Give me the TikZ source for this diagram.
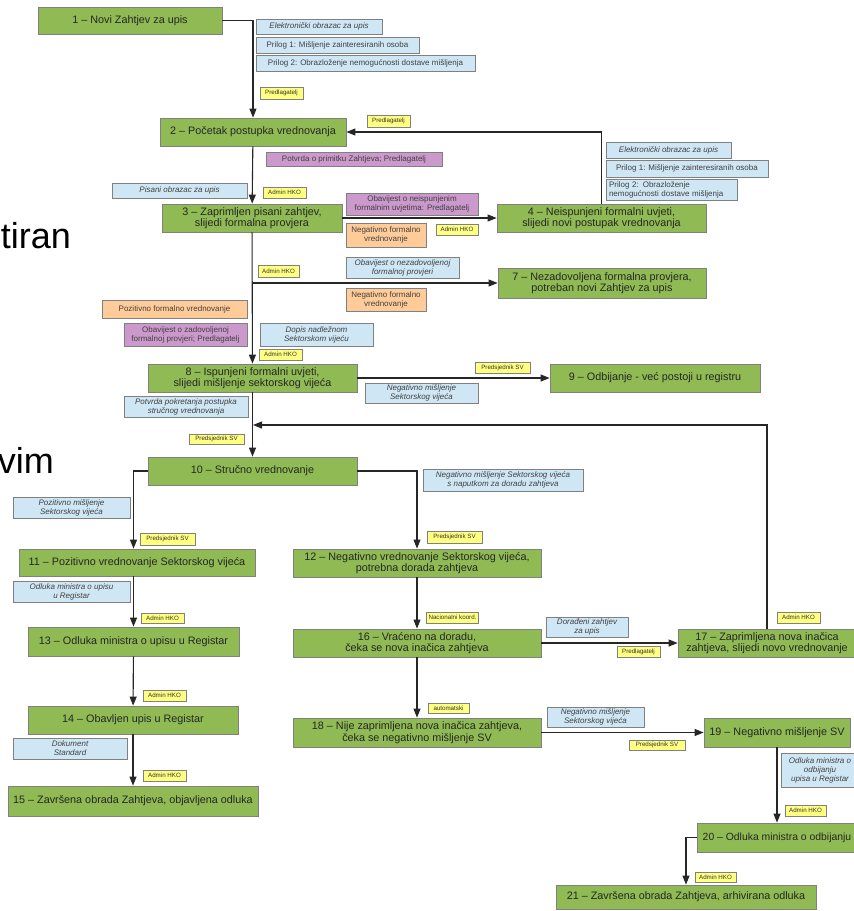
\documentclass[tikz,border=0pt]{standalone}
\usepackage{fontspec}
\setmainfont{Liberation Sans}
\usetikzlibrary{arrows.meta}
\definecolor{stepgreen}{RGB}{143,186,84}
\definecolor{docblue}{RGB}{207,231,245}
\definecolor{noticepurple}{RGB}{204,153,204}
\definecolor{evalorange}{RGB}{255,204,153}
\definecolor{actoryellow}{RGB}{255,255,128}
\definecolor{boxgray}{RGB}{128,128,128}
\tikzstyle{process} = [rectangle, draw=boxgray, line width=0.8pt, fill=stepgreen, text=black!85, align=center, inner sep=0pt, font=\fontsize{10.8}{11.5}\selectfont]
\tikzstyle{doc} = [rectangle, draw=boxgray, line width=0.8pt, fill=docblue, text=black!75, align=center, inner sep=0pt, font=\fontsize{8}{9}\selectfont\itshape]
\tikzstyle{docplain} = [doc, font=\fontsize{8}{9}\selectfont]
\tikzstyle{notice} = [docplain, fill=noticepurple]
\tikzstyle{evaluation} = [docplain, fill=evalorange]
\tikzstyle{actor} = [rectangle, draw=boxgray, line width=0.6pt, fill=actoryellow, text=black!80, inner sep=0pt, font=\fontsize{6.2}{7}\selectfont]
\tikzstyle{arrow} = [line width=1.1pt, draw=black!85, ->, >={Triangle[length=9pt,width=7pt]}]

\begin{document}
\begin{tikzpicture}[x=1pt, y=-1pt]
\useasboundingbox (0,0) rectangle (854,911);

% slide text behind the chart
\node (tiran) [anchor=base east, inner sep=0pt, font=\fontsize{36}{40}\selectfont] at (71,248) {tiran};
\node (vim) [anchor=base east, inner sep=0pt, font=\fontsize{36}{40}\selectfont] at (54,473) {vim};

%%% process steps %%%%%%%%%%%%%%%%%%%%
\node (n1) [process, minimum width=184pt, minimum height=27pt] at (130,20.5) {1 – Novi Zahtjev za upis};
\node (n2) [process, minimum width=186pt, minimum height=28pt] at (253,132) {2 – Početak postupka vrednovanja};
\node (n3) [process, minimum width=180pt, minimum height=28pt] at (252,218) {3 – Zaprimljen pisani zahtjev,\\slijedi formalna provjera};
\node (n4) [process, minimum width=209pt, minimum height=28pt] at (601.5,218) {4 – Neispunjeni formalni uvjeti,\\slijedi novi postupak vrednovanja};
\node (n7) [process, minimum width=208pt, minimum height=30pt] at (602,283) {7 – Nezadovoljena formalna provjera,\\potreban novi Zahtjev za upis};
\node (n8) [process, minimum width=209pt, minimum height=28pt] at (252.5,378) {8 – Ispunjeni formalni uvjeti,\\slijedi mišljenje sektorskog vijeća};
\node (n9) [process, minimum width=210pt, minimum height=28pt] at (655,378) {9 – Odbijanje - već postoji u registru};
\node (n10) [process, minimum width=209pt, minimum height=28pt] at (252.5,471) {10 – Stručno vrednovanje};
\node (n11) [process, minimum width=236pt, minimum height=27pt] at (137,562.5) {11 – Pozitivno vrednovanje Sektorskog vijeća};
\node (n12) [process, minimum width=248pt, minimum height=28pt] at (417,563) {12 – Negativno vrednovanje Sektorskog vijeća,\\potrebna dorada zahtjeva};
\node (n13) [process, minimum width=211pt, minimum height=29pt] at (133.5,641.5) {13 – Odluka ministra o upisu u Registar};
\node (n14) [process, minimum width=210pt, minimum height=28pt] at (133,720) {14 – Obavljen upis u Registar};
\node (n15) [process, minimum width=250pt, minimum height=30pt] at (133,801) {15 – Završena obrada Zahtjeva, objavljena odluka};
\node (n16) [process, minimum width=248pt, minimum height=28pt] at (417,643) {16 – Vraćeno na doradu,\\čeka se nova inačica zahtjeva};
\node (n17) [process, minimum width=178pt, minimum height=28pt] at (767,643) {17 – Zaprimljena nova inačica\\zahtjeva, slijedi novo vrednovanje};
\node (n18) [process, minimum width=248pt, minimum height=29pt] at (417,732.5) {18 – Nije zaprimljena nova inačica zahtjeva,\\čeka se negativno mišljenje SV};
\node (n19) [process, minimum width=146pt, minimum height=29pt] at (777,732.5) {19 – Negativno mišljenje SV};
\node (n20) [process, minimum width=160pt, minimum height=29pt, font=\fontsize{10.4}{11.5}\selectfont] at (777,837.5) {20 – Odluka ministra o odbijanju};
\node (n21) [process, minimum width=260pt, minimum height=24pt] at (686,897) {21 – Završena obrada Zahtjeva, arhivirana odluka};

%%% documents %%%%%%%%%%%%%%%%%%%%%%%%
\node (eobr) [doc, minimum width=126pt, minimum height=15pt] at (319,26.5) {Elektronički obrazac za upis};
\node (pril1) [docplain, minimum width=163pt, minimum height=16pt] at (337.5,45) {Prilog 1: Mišljenje zainteresiranih osoba};
\node (pril2) [docplain, minimum width=219pt, minimum height=16pt] at (365.5,63) {Prilog 2: Obrazloženje nemogućnosti dostave mišljenja};
\node (pobr) [doc, minimum width=135pt, minimum height=15pt] at (179.5,190.5) {Pisani obrazac za upis};
\node (obnez) [doc, minimum width=113pt, minimum height=21pt] at (402.5,267.5) {Obavijest o nezadovoljenoj\\formalnoj provjeri};
\node (dopis) [doc, minimum width=113pt, minimum height=23pt] at (316.5,334.5) {Dopis nadležnom\\Sektorskom vijeću};
\node (negsv) [doc, minimum width=113pt, minimum height=20pt] at (421.5,393) {Negativno mišljenje\\Sektorskog vijeća};
\node (potpok) [doc, minimum width=124pt, minimum height=21pt] at (186,406.5) {Potvrda pokretanja postupka\\stručnog vrednovanja};
\node (pozsv) [doc, minimum width=117pt, minimum height=21pt] at (71.5,507.5) {Pozitivno mišljenje\\Sektorskog vijeća};
\node (negnap) [doc, minimum width=160pt, minimum height=22pt] at (503,480) {Negativno mišljenje Sektorskog vijeća\\s naputkom za doradu zahtjeva};
\node (odlupis) [doc, minimum width=117pt, minimum height=21pt] at (71.5,591.5) {Odluka ministra o upisu\\u Registar};
\node (dokstd) [doc, minimum width=114pt, minimum height=21pt] at (70,748.5) {Dokument\\Standard};
\node (dorad) [doc, minimum width=82pt, minimum height=20pt] at (587,627) {Dorađeni zahtjev\\za upis};
\node (negsvb) [doc, minimum width=97pt, minimum height=20pt] at (595.5,717) {Negativno mišljenje\\Sektorskog vijeća};
\node (odlodb) [doc, minimum width=78pt, minimum height=34pt] at (820,770) {Odluka ministra o\\odbijanju\\upisa u Registar};
\node (eobrb) [doc, minimum width=125pt, minimum height=16pt] at (668.5,150) {Elektronički obrazac za upis};
\node (pril1b) [docplain, minimum width=162pt, minimum height=17pt] at (687,168.5) {Prilog 1: Mišljenje zainteresiranih osoba};
\node (pril2b) [docplain, align=left, minimum width=131pt, minimum height=21pt, text width=125pt] at (671.5,189.5) {Prilog 2: Obrazloženje\\nemogućnosti dostave mišljenja};

%%% notices and evaluations %%%%%%%%%%
\node (potprim) [notice, minimum width=176pt, minimum height=14pt] at (354,159) {Potvrda o primitku Zahtjeva; Predlagatelj};
\node (obneisp) [notice, minimum width=132pt, minimum height=22pt] at (412,204) {Obavijest o neispunjenim\\formalnim uvjetima: Predlagatelj};
\node (obzad) [notice, minimum width=123pt, minimum height=23pt] at (185.5,334.5) {Obavijest o zadovoljenoj\\formalnoj provjeri; Predlagatelj};
\node (negform) [evaluation, minimum width=80pt, minimum height=24pt] at (386,235) {Negativno formalno\\vrednovanje};
\node (negformb) [evaluation, minimum width=80pt, minimum height=23pt] at (386,299.5) {Negativno formalno\\vrednovanje};
\node (pozform) [evaluation, minimum width=145pt, minimum height=18pt] at (174.5,309) {Pozitivno formalno vrednovanje};

%%% actors %%%%%%%%%%%%%%%%%%%%%%%%%%%
\node (a1) [actor, minimum width=43pt, minimum height=12pt] at (281.5,93) {Predlagatelj};
\node (a2) [actor, minimum width=43pt, minimum height=12pt] at (388.5,121) {Predlagatelj};
\node (a3) [actor, minimum width=43pt, minimum height=11pt] at (284.5,192.5) {Admin HKO};
\node (a4) [actor, minimum width=42pt, minimum height=11pt] at (457,229.5) {Admin HKO};
\node (a5) [actor, minimum width=41pt, minimum height=12pt] at (278.5,271) {Admin HKO};
\node (a6) [actor, minimum width=43pt, minimum height=11pt] at (280.5,354.5) {Admin HKO};
\node (a7) [actor, minimum width=55pt, minimum height=11pt] at (502.5,367.5) {Predsjednik SV};
\node (a8) [actor, minimum width=55pt, minimum height=10pt] at (216.5,439) {Predsjednik SV};
\node (a9) [actor, minimum width=55pt, minimum height=12pt] at (167.5,539) {Predsjednik SV};
\node (a10) [actor, minimum width=55pt, minimum height=12pt] at (454.5,537) {Predsjednik SV};
\node (a11) [actor, minimum width=43pt, minimum height=10pt] at (162.5,618.5) {Admin HKO};
\node (a12) [actor, minimum width=52pt, minimum height=11pt] at (452.5,617.5) {Nacionalni koord.};
\node (a13) [actor, minimum width=43pt, minimum height=11pt] at (798.5,617.5) {Admin HKO};
\node (a14) [actor, minimum width=43pt, minimum height=11pt] at (638.5,651.5) {Predlagatelj};
\node (a15) [actor, minimum width=43pt, minimum height=11pt] at (164.5,695.5) {Admin HKO};
\node (a16) [actor, minimum width=41pt, minimum height=10pt] at (448.5,708) {automatski};
\node (a17) [actor, minimum width=56pt, minimum height=10pt] at (657,745) {Predsjednik SV};
\node (a18) [actor, minimum width=43pt, minimum height=11pt] at (164.5,775.5) {Admin HKO};
\node (a19) [actor, minimum width=41pt, minimum height=11pt] at (805.5,810.5) {Admin HKO};
\node (a20) [actor, minimum width=41pt, minimum height=10pt] at (715.5,877) {Admin HKO};

\coordinate (b7) at (n3.south |- n7.west);
\coordinate (b10) at (253,425);

%%% drawing %%%%%%%%%%%%%%%%%%%%%%%
\draw [arrow] (n1.east) -| (n2.north);
\draw [arrow] (n2) -- (n3);
\draw [arrow] (n3) -- (n4);
\draw [arrow] (n4.north) |- (n2.east);
\draw [arrow] (n3) -- (n8);
\draw [arrow] (b7) -- (n7.west);
\draw [arrow] (n8) -- (n9);
\draw [arrow] (n8) -- (n10);
\draw [arrow] (n17.north) |- (b10);
\draw [arrow] (n10.west) -| (n13.north |- n11.north);
\draw [arrow] (n10.east) -| (n12.north);
\draw [arrow] (n13.north |- n11.south) -- (n13.north);
\draw [arrow] (n13) -- (n14);
\draw [arrow] (n14) -- (n15);
\draw [arrow] (n12) -- (n16);
\draw [arrow] (n16) -- (n17);
\draw [arrow] (n16) -- (n18);
\draw [arrow] (n18) -- (n19);
\draw [arrow] (n19) -- (n20);
\draw [arrow] (n20.west) -| (n21.north);
\end{tikzpicture}
\end{document}
